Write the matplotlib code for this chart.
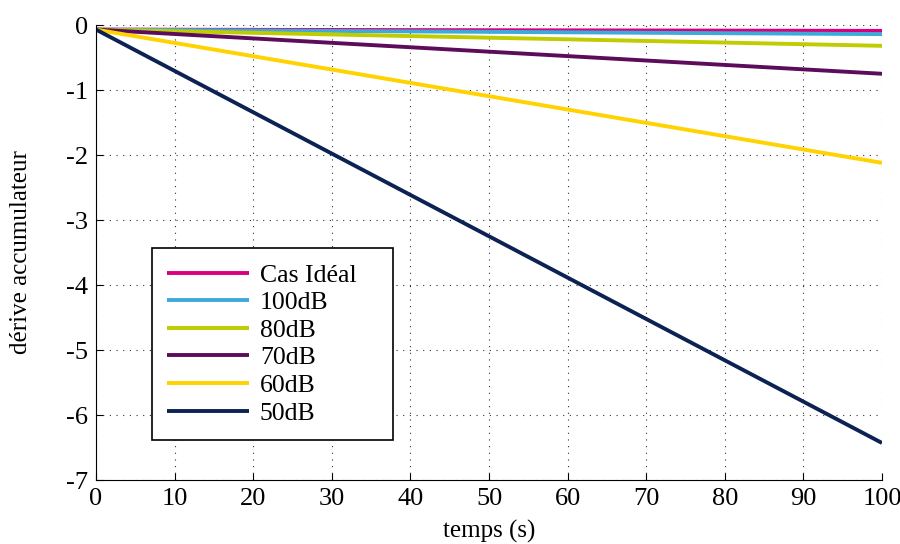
import matplotlib.pyplot as plt

plt.rcParams['font.family'] = ['Liberation Serif', 'DejaVu Serif']
plt.rcParams['axes.unicode_minus'] = False

temps = [0, 100]
labels = ['Cas Idéal', '100dB', '80dB', '70dB', '60dB', '50dB']
derive_ideal = [-0.07, -0.09]
derive_100 = [-0.07, -0.14]
derive_80 = [-0.07, -0.32]
derive_70 = [-0.07, -0.75]
derive_60 = [-0.07, -2.12]
derive_50 = [-0.07, -6.43]
colors = ['#d9007e', '#3eaad9', '#bfcc00', '#5c0c5a', '#ffd200', '#0b2252']

fig = plt.figure(figsize=(9, 5.44), dpi=100)
ax = fig.add_axes([0.1067, 0.1176, 0.8733, 0.8364])

series = [derive_ideal, derive_100, derive_80, derive_70, derive_60, derive_50]
for vals, lab, c in zip(series, labels, colors):
    ax.plot(temps, vals, color=c, lw=2.8, label=lab, solid_capstyle='butt')

ax.set_xlim(0, 100)
ax.set_ylim(-7, 0)
ax.set_xticks(range(0, 101, 10))
ax.set_yticks(range(-7, 1))
ax.grid(True, linestyle=(0, (1, 5)), color='#333333', lw=0.8)
ax.spines['top'].set_visible(False)
ax.spines['right'].set_visible(False)
ax.tick_params(direction='in', labelsize=19, length=5, pad=6)
ax.set_xlabel('temps (s)', fontsize=18, labelpad=7)
ax.set_ylabel('dérive accumulateur', fontsize=18, labelpad=24)

# legend box as wide as in the reference (matlab style, extra room on the right)
leg = ax.legend(loc='lower left', bbox_to_anchor=(0.071, 0.088, 0.307, 0.4),
                mode='expand', borderaxespad=0,
                fontsize=18.5, fancybox=False, framealpha=1, edgecolor='black',
                handlelength=3.2, handletextpad=0.4, labelspacing=0.18,
                borderpad=0.6)
leg.get_frame().set_linewidth(1.2)

fig.savefig('out.png', dpi=100)
